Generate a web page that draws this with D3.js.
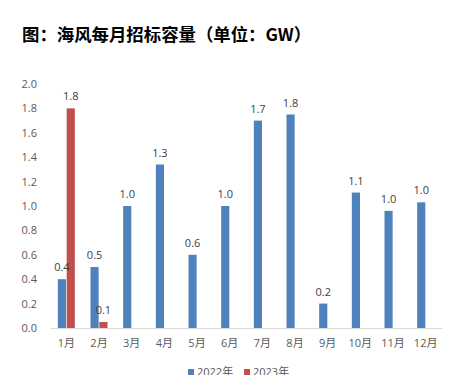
<!DOCTYPE html>
<html>
<head>
<meta charset="utf-8">
<script src="https://cdn.jsdelivr.net/npm/d3@7"></script>
<style>
  body { margin: 0; background: #fff; }
  text { font-family: "Open Sans", "Noto Sans CJK SC", sans-serif; }
</style>
</head>
<body>
<div id="chart-area"></div>
<script>
const months = ["1月", "2月", "3月", "4月", "5月", "6月", "7月", "8月", "9月", "10月", "11月", "12月"];
const series = ["2022年", "2023年"];
const values2022 = [0.4, 0.5, 1.0, 1.34, 0.6, 1.0, 1.7, 1.75, 0.2, 1.11, 0.96, 1.03];
const values2023 = [1.8, 0.05, null, null, null, null, null, null, null, null, null, null];
const yTicks = [0, 0.2, 0.4, 0.6, 0.8, 1.0, 1.2, 1.4, 1.6, 1.8, 2.0];

const width = 458, height = 375;
const margin = {top: 84, right: 16, bottom: 47, left: 50};
const colors = {"2022年": "#4F81BD", "2023年": "#C0504D"};

const svg = d3.select("#chart-area").append("svg")
    .attr("width", width)
    .attr("height", height);

// title
svg.append("text")
    .attr("x", 22)
    .attr("y", 41)
    .attr("font-size", 17.4)
    .attr("font-weight", "bold")
    .attr("fill", "#000")
    .style("font-family", "'Noto Sans CJK SC', sans-serif")
    .text("图：海风每月招标容量（单位：GW）");

const x0 = d3.scaleBand()
    .domain(months)
    .range([margin.left, width - margin.right]);

const groupWidth = 17;
const x1 = d3.scaleBand()
    .domain(series)
    .range([0, groupWidth])
    .paddingInner(0.08);

const y = d3.scaleLinear()
    .domain([0, 2])
    .range([height - margin.bottom, margin.top]);

// y axis (labels only)
svg.append("g")
    .attr("transform", `translate(${margin.left - 10},0)`)
    .call(d3.axisLeft(y).tickValues(yTicks).tickFormat(d3.format(".1f")).tickSize(0))
    .call(g => g.select(".domain").remove())
    .call(g => g.selectAll("text")
        .attr("font-size", 11)
        .attr("fill", "#595959")
        .style("font-family", null));

// x axis
svg.append("g")
    .attr("transform", `translate(0,${y(0)})`)
    .call(d3.axisBottom(x0).tickSize(0).tickPadding(11))
    .call(g => g.select(".domain").attr("stroke", "#D9D9D9"))
    .call(g => g.selectAll("text")
        .attr("font-size", 11)
        .attr("fill", "#595959")
        .style("font-family", null));

const rows = months.map((m, i) => ({
    month: m,
    vals: [{key: "2022年", value: values2022[i]}, {key: "2023年", value: values2023[i]}]
        .filter(d => d.value !== null)
}));

const groups = svg.append("g")
    .selectAll("g")
    .data(rows)
    .join("g")
    .attr("transform", d => `translate(${x0(d.month) + x0.bandwidth() / 2 - groupWidth / 2},0)`);

groups.selectAll("rect")
    .data(d => d.vals)
    .join("rect")
    .attr("x", d => x1(d.key))
    .attr("y", d => y(d.value))
    .attr("width", x1.bandwidth())
    .attr("height", d => y(0) - y(d.value))
    .attr("fill", d => colors[d.key]);

groups.selectAll("text.lbl")
    .data(d => d.vals)
    .join("text")
    .attr("class", "lbl")
    .attr("x", d => x1(d.key) + x1.bandwidth() / 2)
    .attr("y", d => y(d.value) - 8)
    .attr("text-anchor", "middle")
    .attr("font-size", 11)
    .attr("fill", "#404040")
    .text(d => d.value.toFixed(1));

// legend
const legend = svg.append("g")
    .attr("transform", "translate(188,369)");

const item = legend.selectAll("g")
    .data(series)
    .join("g")
    .attr("transform", (d, i) => `translate(${i * 56},0)`);

item.append("rect")
    .attr("width", 6)
    .attr("height", 6)
    .attr("fill", d => colors[d]);

item.append("text")
    .attr("x", 9)
    .attr("y", 7)
    .attr("font-size", 11)
    .attr("fill", "#595959")
    .text(d => d);
</script>
</body>
</html>
